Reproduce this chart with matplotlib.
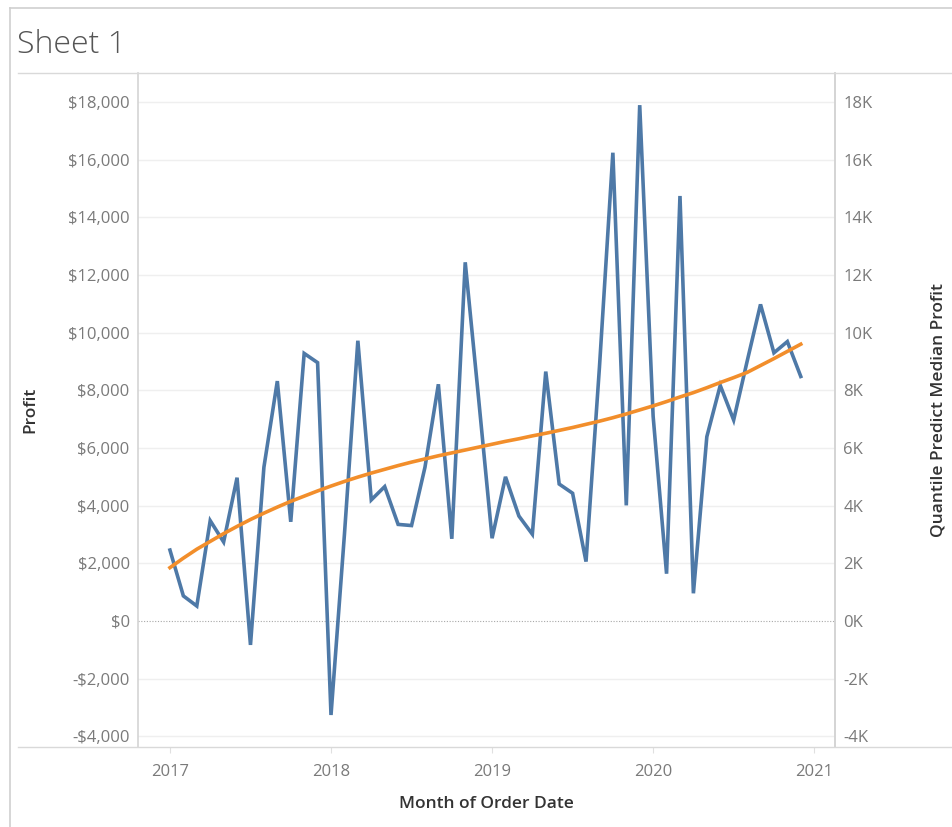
import matplotlib
matplotlib.use("Agg")
import matplotlib.pyplot as plt
from matplotlib.lines import Line2D

# ---- data ----
months = list(range(48))  # Jan 2017 .. Dec 2020
profit = [2460, 870, 520, 3480, 2740, 4970, -830, 5330, 8320, 3440, 9280, 8960,
          -3260, 3000, 9720, 4200, 4660, 3350, 3310, 5330, 8210, 2850, 12440, 7700,
          2870, 5000, 3640, 3010, 8650, 4750, 4430, 2060, 8800, 16240, 4010, 17890,
          7100, 1640, 14740, 960, 6390, 8170, 6970, 9000, 10980, 9300, 9690, 8480]
predicted = [1850, 2180, 2490, 2760, 3030, 3280, 3520, 3740, 3950, 4150, 4330, 4510,
             4680, 4840, 4990, 5130, 5260, 5390, 5510, 5620, 5730, 5830, 5930, 6030,
             6130, 6230, 6320, 6420, 6510, 6610, 6710, 6820, 6930, 7050, 7180, 7320,
             7460, 7610, 7770, 7920, 8090, 8270, 8440, 8620, 8860, 9100, 9350, 9600]
year_ticks = [0, 12, 24, 36, 48]
year_labels = ["2017", "2018", "2019", "2020", "2021"]
y_ticks = list(range(-4000, 18001, 2000))
left_labels = [("-$" if v < 0 else "$") + f"{abs(v):,}" for v in y_ticks]
right_labels = [f"{v // 1000}K" for v in y_ticks]

plt.rcParams['font.family'] = ['Open Sans', 'DejaVu Sans']

W, H = 953, 827
fig = plt.figure(figsize=(W / 100, H / 100), dpi=100)
fig.patch.set_facecolor("white")

def fx(px):
    return px / W

def fy(py):
    return 1 - py / H

ax_l, ax_r, ax_t, ax_b = 138, 835, 73, 747
ax = fig.add_axes([fx(ax_l), fy(ax_b), fx(ax_r - ax_l), (ax_b - ax_t) / H])
ax.set_facecolor("white")

ax.set_xlim(-2.38, 49.55)
ax.set_ylim(-4370, 19005)

grid_c = "#efefef"
for v in y_ticks:
    if v == 0:
        ax.axhline(0, color="#a8a8a8", lw=0.8, ls=(0, (1, 1.5)), zorder=1)
    else:
        ax.axhline(v, color=grid_c, lw=1.0, zorder=0)

ax.plot(months, profit, color="#4e79a7", lw=2.6, solid_joinstyle="miter", zorder=3)

for s in ["top", "bottom"]:
    ax.spines[s].set_visible(False)
for s in ["left", "right"]:
    ax.spines[s].set_color("#d4d4d4")
    ax.spines[s].set_linewidth(1.2)

ax.set_yticks(y_ticks)
ax.set_yticklabels(left_labels)
ax.set_xticks(year_ticks)
ax.set_xticklabels(year_labels)
ax.tick_params(axis="y", length=0, pad=6, labelsize=12, labelcolor="#7a7a7a")
ax.tick_params(axis="x", length=4, color="#e0e0e0", pad=8, labelsize=12, labelcolor="#7a7a7a")
ax.set_ylabel("Profit", fontsize=12.5, color="#333333", fontweight="semibold")
ax.yaxis.set_label_coords(-0.1435, 0.5)
ax.set_xlabel("Month of Order Date", fontsize=12.5, color="#333333", fontweight="semibold")
ax.xaxis.set_label_coords(0.5, -0.072)

ax2 = ax.twinx()
ax2.set_ylim(ax.get_ylim())
ax2.plot(months, predicted, color="#f28e2b", lw=2.6, zorder=4)
ax2.set_yticks(y_ticks)
ax2.set_yticklabels(right_labels)
ax2.tick_params(axis="y", length=0, pad=6, labelsize=12, labelcolor="#7a7a7a")
for s in ["top", "bottom", "left"]:
    ax2.spines[s].set_visible(False)
ax2.spines["right"].set_color("#d4d4d4")
ax2.spines["right"].set_linewidth(1.2)
ax2.set_ylabel("Quantile Predict Median Profit", fontsize=12.5, color="#333333",
               fontweight="semibold")
ax2.yaxis.set_label_coords(1.137, 0.5)

# frame and separators
fig.add_artist(Line2D([fx(10), fx(10)], [fy(8), fy(827)], color="#cfcfcf", lw=1.2))
fig.add_artist(Line2D([fx(10), 1], [fy(8), fy(8)], color="#cfcfcf", lw=1.2))
fig.add_artist(Line2D([fx(18), 1], [fy(73), fy(73)], color="#d9d9d9", lw=1.0))
fig.add_artist(Line2D([fx(18), 1], [fy(747), fy(747)], color="#d9d9d9", lw=1.0))

fig.text(fx(17), fy(45), "Sheet 1", fontsize=23, color="#555555", va="center", ha="left",
         fontweight="light")

fig.savefig("out.png", dpi=100)
